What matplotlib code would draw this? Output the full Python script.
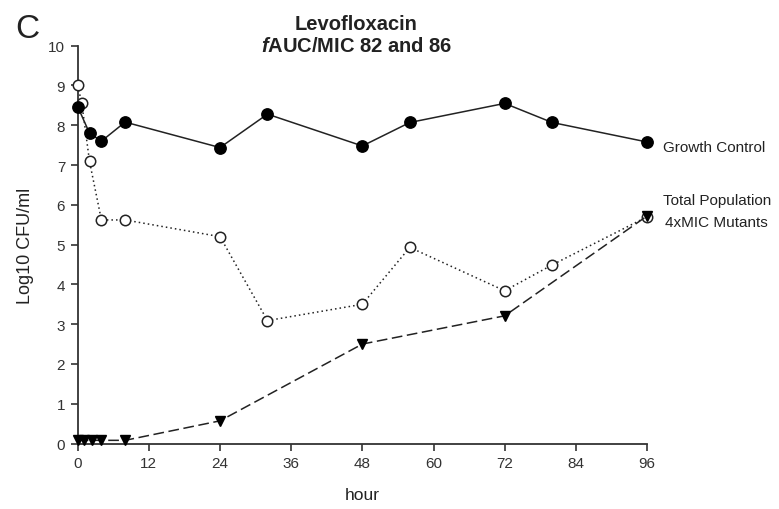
import matplotlib
matplotlib.use("Agg")
import matplotlib.pyplot as plt

plt.rcParams['font.family'] = ['Liberation Sans', 'DejaVu Sans']
plt.rcParams['mathtext.fontset'] = 'custom'
plt.rcParams['mathtext.it'] = 'Liberation Sans:bold:italic'
plt.rcParams['mathtext.rm'] = 'Liberation Sans:bold'

# Data
growth_t = [0, 2, 4, 8, 24, 32, 48, 56, 72, 80, 96]
growth_v = [8.47, 7.8, 7.6, 8.08, 7.44, 8.28, 7.48, 8.07, 8.55, 8.07, 7.58]

total_t = [0, 0.7, 2, 4, 8, 24, 32, 48, 56, 72, 80, 96]
total_v = [9.0, 8.55, 7.09, 5.62, 5.62, 5.2, 3.09, 3.5, 4.93, 3.84, 4.49, 5.7]

mut_t = [0, 1, 2.5, 4, 8, 24, 48, 72, 96]
mut_v = [0.08, 0.08, 0.08, 0.08, 0.08, 0.57, 2.5, 3.21, 5.72]

x_ticks = [0, 12, 24, 36, 48, 60, 72, 84, 96]
y_ticks = [0, 1, 2, 3, 4, 5, 6, 7, 8, 9, 10]

series_labels = ["Growth Control", "Total Population", "4xMIC Mutants"]
title_lines = ["Levofloxacin", "$f$AUC/MIC 82 and 86"]

fig = plt.figure(figsize=(7.79, 5.10), dpi=100)
ax = fig.add_axes([0.0997, 0.1284, 0.7309, 0.78])

lc = '#222222'
ax.plot(total_t, total_v, linestyle=(0, (1, 2)), color=lc, lw=1.1,
        marker='o', markersize=7.5, markerfacecolor='white', markeredgecolor=lc,
        markeredgewidth=1.1, clip_on=False, zorder=3)
ax.plot(mut_t, mut_v, linestyle=(0, (7, 3)), color=lc, lw=1.1,
        marker='v', markersize=7.5, markerfacecolor='black', markeredgecolor='black',
        clip_on=False, zorder=4)
ax.plot(growth_t, growth_v, linestyle='-', color=lc, lw=1.1,
        marker='o', markersize=8.2, markerfacecolor='black', markeredgecolor='black',
        clip_on=False, zorder=5)

ax.set_xlim(0, 96)
ax.set_ylim(0, 10)
ax.set_xticks(x_ticks)
ax.set_yticks(y_ticks)
ax.spines['top'].set_visible(False)
ax.spines['right'].set_visible(False)
for s in ['left', 'bottom']:
    ax.spines[s].set_linewidth(1.3)
    ax.spines[s].set_color('#333333')
ax.tick_params(direction='out', length=5, width=1.2, colors='#333333',
               labelsize=11, labelcolor='#333333', pad=4)

ax.set_xlabel("hour", fontsize=12.5, color='#222222', labelpad=12)
ax.set_ylabel("Log10 CFU/ml", fontsize=13, color='#222222', labelpad=10)

fig.text(0.4577, 0.941, title_lines[0], fontsize=14.5, fontweight='bold',
         color='#222222', ha='center', va='baseline')
fig.text(0.4577, 0.898, title_lines[1], fontsize=14.5, fontweight='bold',
         color='#222222', ha='center', va='baseline')

fig.text(0.019, 0.925, "C", fontsize=24, color='#222222', va='baseline')

ax.annotate(series_labels[0], xy=(96, growth_v[-1]), xytext=(11.5, -3.6),
            textcoords='offset points', fontsize=11, color='#222222', va='center',
            annotation_clip=False)
ax.annotate(series_labels[1], xy=(96, total_v[-1]), xytext=(11.5, 12.3),
            textcoords='offset points', fontsize=11, color='#222222', va='center',
            annotation_clip=False)
ax.annotate(series_labels[2], xy=(96, mut_v[-1]), xytext=(13, -4),
            textcoords='offset points', fontsize=11, color='#222222', va='center',
            annotation_clip=False)

fig.savefig("out.png", dpi=100)
